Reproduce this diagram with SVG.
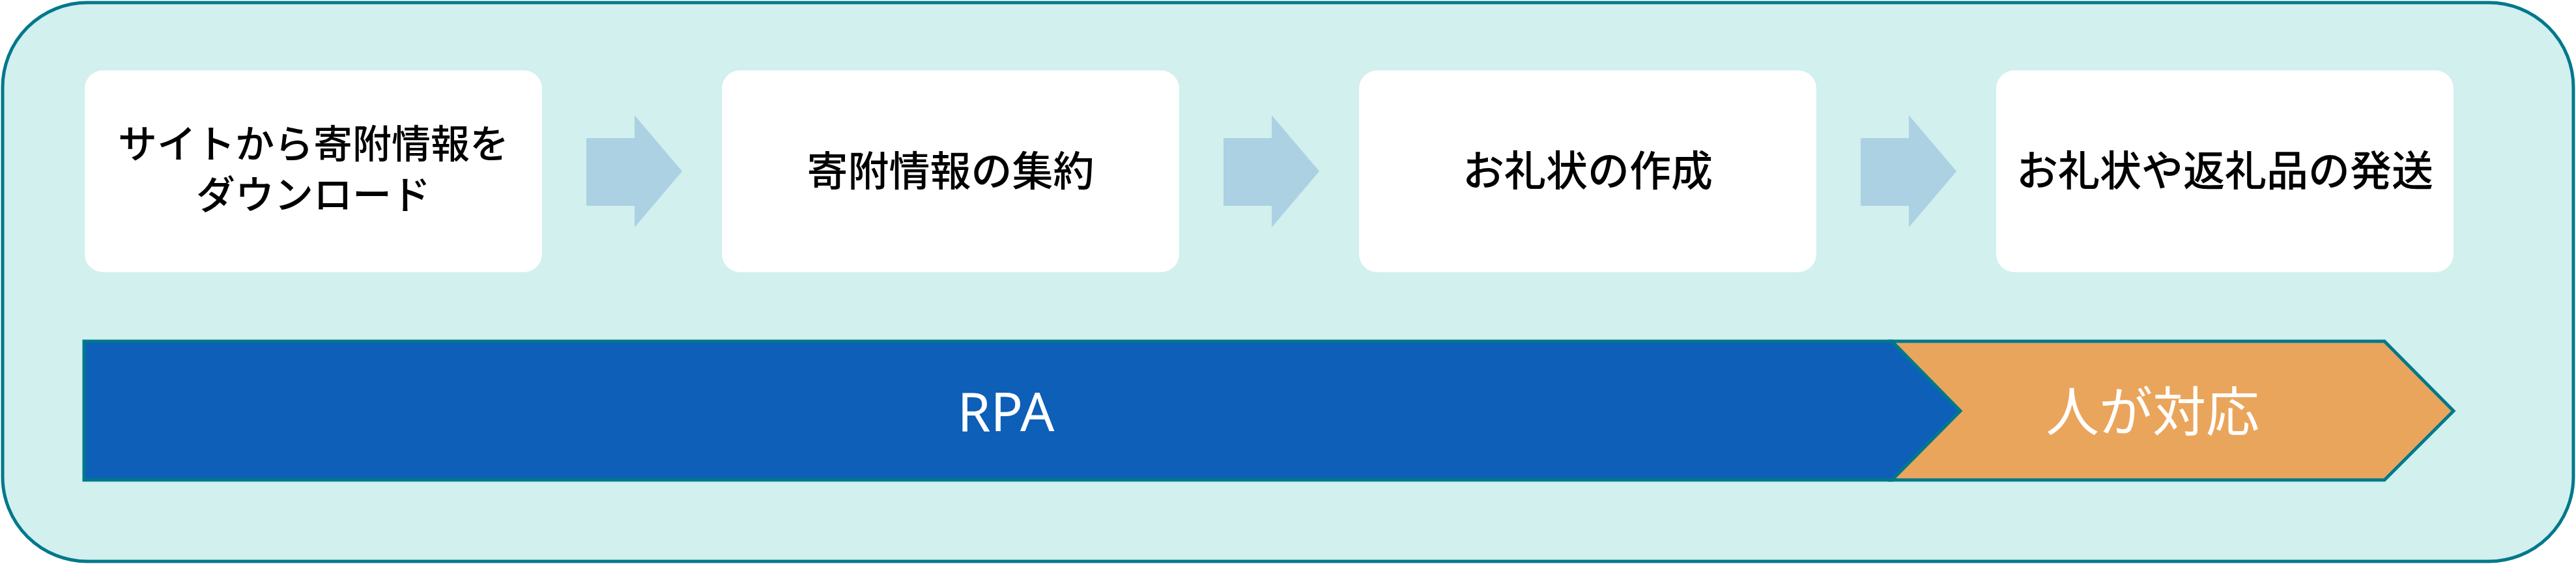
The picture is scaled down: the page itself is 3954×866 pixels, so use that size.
<svg xmlns="http://www.w3.org/2000/svg" width="3954" height="866" viewBox="0 0 3954 866">
<style>
.card{fill:#ffffff;}
.arrow{fill:#abd1e3;}
.ct{font-family:"Noto Sans CJK JP","Noto Sans",sans-serif;font-weight:500;fill:#000000;text-anchor:middle;}
.bt{font-family:"Noto Sans","Noto Sans CJK JP",sans-serif;fill:#ffffff;text-anchor:middle;}
.bar{stroke:#00788c;stroke-width:5;stroke-linejoin:miter;}
</style>
<g id="background">
<rect x="4" y="4" width="3946" height="858" rx="130" ry="130" fill="#d1f0ee" stroke="#00788c" stroke-width="5"/>
</g>
<g id="node1">
<rect class="card" x="130" y="108" width="702" height="310" rx="28" ry="28"/>
<text class="ct" font-size="60" x="481" y="243">サイトから寄附情報を</text>
<text class="ct" font-size="60" x="481" y="321">ダウンロード</text>
</g>
<g id="node2">
<rect class="card" x="1108" y="108" width="702" height="310" rx="28" ry="28"/>
<text class="ct" font-size="63" x="1459" y="285">寄附情報の集約</text>
</g>
<g id="node3">
<rect class="card" x="2086" y="108" width="702" height="310" rx="28" ry="28"/>
<text class="ct" font-size="64" x="2437" y="285">お礼状の作成</text>
</g>
<g id="node4">
<rect class="card" x="3064" y="108" width="702" height="310" rx="28" ry="28"/>
<text class="ct" font-size="64" x="3415" y="285">お礼状や返礼品の発送</text>
</g>
<g id="connectors">
<polygon class="arrow" points="900,212 974,212 974,177 1047,263 974,349 974,316 900,316"/>
<polygon class="arrow" points="1878,212 1952,212 1952,177 2025,263 1952,349 1952,316 1878,316"/>
<polygon class="arrow" points="2856,212 2930,212 2930,177 3003,263 2930,349 2930,316 2856,316"/>
</g>
<g id="rpa">
<polygon class="bar" fill="#0d5fb8" points="129,524 2904,524 3009,631 2904,737 129,737"/>
<text class="bt" font-size="82" x="1544" y="662">RPA</text>
</g>
<g id="human">
<polygon class="bar" fill="#eaa55c" points="2904,524 3660,524 3766,631 3660,737 2904,737 3009,631"/>
<text class="bt" font-size="82" x="3304" y="662" font-family="Noto Sans CJK JP, sans-serif">人が対応</text>
</g>
</svg>
